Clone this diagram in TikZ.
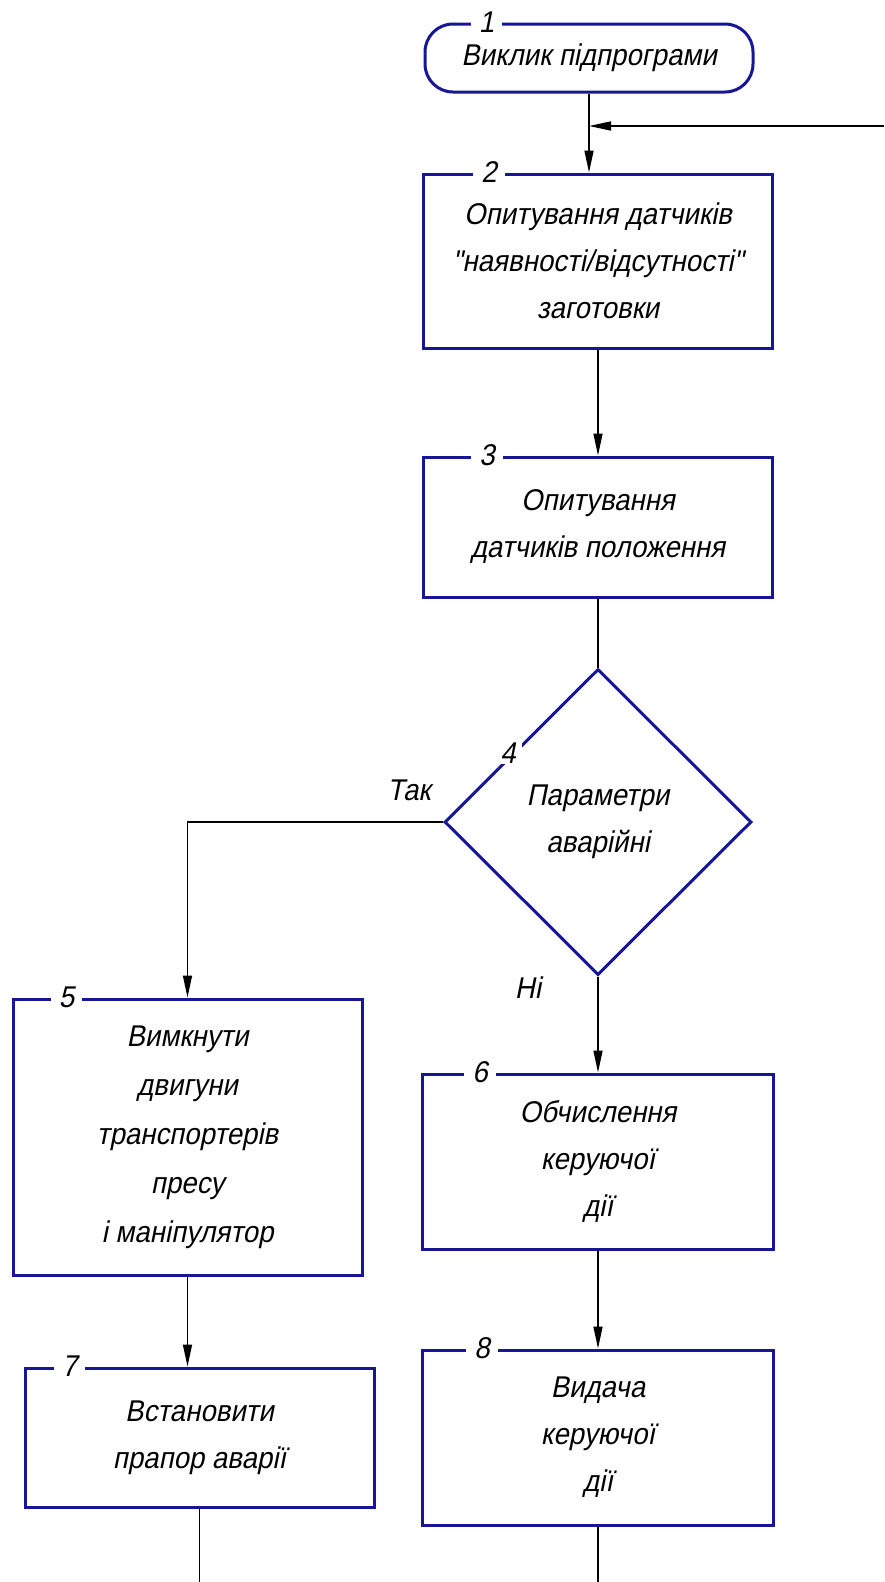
\documentclass[tikz,border=0pt]{standalone}
\usepackage{fontspec}
\setmainfont{Liberation Sans}
\newfontfamily\gost{Liberation Sans}[FakeSlant=0.2,FakeStretch=0.92]
\usetikzlibrary{shapes.geometric,arrows.meta,calc}
\definecolor{boxblue}{RGB}{22,22,150}
\begin{document}
\begin{tikzpicture}[x=1pt,y=-1pt,
  txt/.style={font=\gost\fontsize{30}{47}\selectfont, align=center},
  blk/.style={draw=boxblue, line width=3pt, rectangle, inner sep=0pt, txt},
  num/.style={fill=white, inner xsep=8pt, inner ysep=1pt, font=\gost\fontsize{30}{32}\selectfont},
  conn/.style={line width=1.5pt, draw=black},
  arr/.style={conn, -{Triangle[length=22pt,width=9pt]}},
  lbl/.style={font=\gost\fontsize{30}{32}\selectfont}
]
\useasboundingbox (0,0) rectangle (884,1582);
\fill[white] (0,0) rectangle (884,1582);

\node[blk, rounded corners=28pt, minimum width=328pt, minimum height=68pt] (t1) at (589,58) {Виклик підпрограми};
\node[blk, minimum width=349pt, minimum height=174pt] (b2) at (598,261) {Опитування датчиків\\"наявності/відсутності"\\заготовки};
\node[blk, minimum width=349pt, minimum height=140pt] (b3) at (598,527) {Опитування\\датчиків положення};
\node[draw=boxblue, line width=3pt, shape=diamond, inner sep=0pt, minimum width=307pt, minimum height=306pt, txt] (d4) at (598,822) {Параметри\\аварійні};
\node[blk, minimum width=349pt, minimum height=276pt, font=\gost\fontsize{30}{49}\selectfont] (b5) at (187.5,1137) {Вимкнути\\двигуни\\транспортерів\\пресу\\і маніпулятор};
\node[blk, minimum width=351pt, minimum height=175pt] (b6) at (598,1161.5) {Обчислення\\керуючої\\дії};
\node[blk, minimum width=349pt, minimum height=139pt] (b7) at (199.5,1437.5) {Встановити\\прапор аварії};
\node[blk, minimum width=351pt, minimum height=175pt] (b8) at (598,1437.5) {Видача\\керуючої\\дії};

\node[num] (n1) at ($(t1.north west)+(63,0)$) {1};
\node[num] (n2) at ($(b2.north west)+(67,0)$) {2};
\node[num] (n3) at ($(b3.north west)+(65,0)$) {3};
\node[num, inner xsep=6pt] (n4) at (508,753) {4};
\node[num] (n5) at ($(b5.north west)+(55,0)$) {5};
\node[num] (n6) at ($(b6.north west)+(59,0)$) {6};
\node[num] (n7) at ($(b7.north west)+(46,0)$) {7};
\node[num] (n8) at ($(b8.north west)+(61,0)$) {8};

\node[lbl] (yes) at (409,790) {Так};
\node[lbl] (no) at (528,988) {Ні};

\coordinate (in) at (884,126);
\coordinate (e7) at (199.5,1582);
\coordinate (e8) at (598,1582);

\draw[arr] (t1.south) -- (t1.south |- b2.north);
\draw[arr] (in) -- (in -| t1.south);
\draw[arr] (b2.south) -- (b3.north);
\draw[conn] (b3.south) -- (d4.north);
\draw[arr] (d4.west) -| (b5.north);
\draw[arr] (d4.south) -- (b6.north);
\draw[arr] (b5.south) -- (b5.south |- b7.north);
\draw[arr] (b6.south) -- (b8.north);
\draw[conn] (b7.south) -- (e7);
\draw[conn] (b8.south) -- (e8);
\end{tikzpicture}
\end{document}
